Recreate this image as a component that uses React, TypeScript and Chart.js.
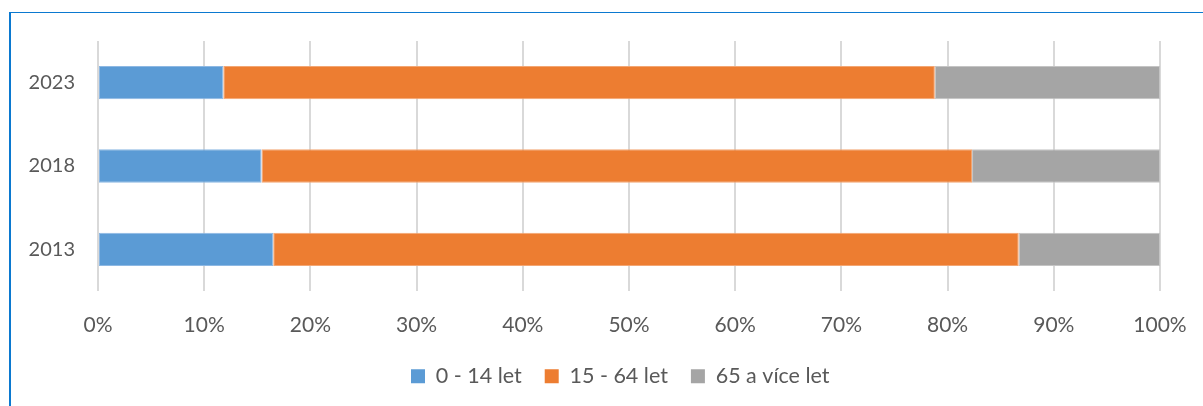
import React, { useEffect, useRef } from "react";
import { Chart, registerables } from "chart.js";

Chart.register(...registerables);

const years = ["2023", "2018", "2013"];
const seriesNames = ["0 - 14 let", "15 - 64 let", "65 a více let"];
const young = [11.8, 15.4, 16.5];
const working = [67.0, 66.9, 70.2];
const old = [21.2, 17.7, 13.3];
const colors = ["#5B9BD5", "#ED7D31", "#A5A5A5"];
const borderColors = ["#8DB8E3", "#F3A673", "#C4C4C4"];

const FONT = "Lato, 'Open Sans', sans-serif";
const TEXT = "#595959";

const legendShift = {
  id: "legendShift",
  afterLayout(chart: any) {
    const lg = chart.legend;
    if (!lg || !lg.lineWidths) return;
    const pad = lg.options.labels.padding;
    const start = (lg.left + pad + lg.right - lg.lineWidths[0]) / 2;
    const shift = 411 - start;
    lg.left += shift;
    lg.right += shift;
  },
};

export default function App() {
  const ref = useRef<HTMLCanvasElement | null>(null);

  useEffect(() => {
    if (!ref.current) return;
    const values = [young, working, old];
    const chart = new Chart(ref.current, {
      type: "bar",
      data: {
        labels: years,
        datasets: seriesNames.map((name, i) => ({
          label: name,
          data: values[i],
          backgroundColor: colors[i],
          borderColor: borderColors[i],
          borderWidth: 1,
          borderSkipped: false,
          barPercentage: 0.4,
          categoryPercentage: 1,
        })),
      },
      plugins: [legendShift],
      options: {
        indexAxis: "y",
        animation: false,
        responsive: false,
        devicePixelRatio: 1,
        layout: { padding: { left: 0, right: 43, top: 41, bottom: 9 } },
        scales: {
          x: {
            stacked: true,
            min: 0,
            max: 100,
            border: { display: false },
            grid: { color: "#D9D9D9", lineWidth: 2, drawTicks: false },
            ticks: {
              stepSize: 10,
              padding: 22,
              color: TEXT,
              font: { family: FONT, size: 21 },
              callback: (v: any) => v + "%",
            },
            afterFit: (s: any) => {
              s.height = 51.5;
              s.paddingRight = 0;
              s.paddingLeft = 0;
            },
          },
          y: {
            stacked: true,
            border: { display: false },
            grid: { display: false, drawTicks: false },
            ticks: {
              padding: 23,
              color: TEXT,
              font: { family: FONT, size: 20 },
            },
            afterFit: (s: any) => {
              s.width = 98;
            },
          },
        },
        plugins: {
          tooltip: { enabled: false },
          legend: {
            position: "bottom",
            labels: {
              boxWidth: 14,
              boxHeight: 14,
              padding: 23,
              color: TEXT,
              font: { family: FONT, size: 21.5 },
              generateLabels: (c: any) =>
                c.data.datasets.map((d: any, i: number) => ({
                  text: d.label,
                  fillStyle: colors[i],
                  strokeStyle: colors[i],
                  lineWidth: 0,
                  hidden: false,
                  datasetIndex: i,
                  fontColor: TEXT,
                })),
            },
          },
        },
      },
    });
    return () => chart.destroy();
  }, []);

  return (
    <div
      style={{
        position: "fixed",
        left: 0,
        top: 0,
        width: 1203,
        height: 406,
        background: "#fff",
        overflow: "hidden",
      }}
    >
      <div
        style={{
          position: "absolute",
          left: 9,
          top: 12,
          width: 1200,
          height: 400,
          borderLeft: "2px solid #0B79D0",
          borderTop: "1px solid #0B79D0",
        }}
      />
      <canvas
        ref={ref}
        width={1203}
        height={406}
        style={{ position: "absolute", left: 0, top: 0, width: 1203, height: 406 }}
      />
    </div>
  );
}
